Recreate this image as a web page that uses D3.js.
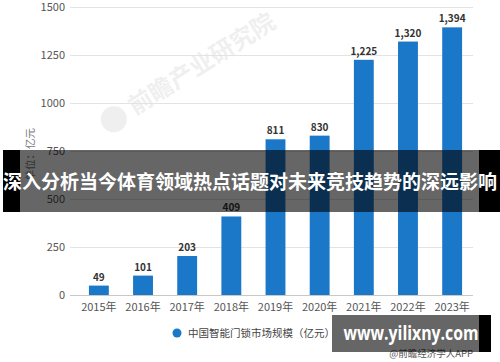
<!DOCTYPE html>
<html>
<head>
<meta charset="utf-8">
<script src="https://cdn.jsdelivr.net/npm/d3@7"></script>
<style>
  html, body { margin: 0; padding: 0; background: #fff; }
  svg { display: block; font-family: "Noto Sans CJK SC", "Noto Sans", sans-serif; }
</style>
</head>
<body>
<div id="container"></div>
<script>
// chart data
const years = ["2015年", "2016年", "2017年", "2018年", "2019年", "2020年", "2021年", "2022年", "2023年"];
const marketSize = [49, 101, 203, 409, 811, 830, 1225, 1320, 1394];
const yTicks = [0, 250, 500, 750, 1000, 1250, 1500];
const seriesName = "中国智能门锁市场规模（亿元）";
const yTitle = "单位：亿元";
const bannerText = "深入分析当今体育领域热点话题对未来竞技趋势的深远影响";
const siteText = "www.yilixny.com";
const sourceText = "@前瞻经济学人APP";
const watermarkText = "前瞻产业研究院";

const width = 500;
const height = 362;
const margin = { top: 7, bottom: 67, left: 70, right: 27 };
const barColor = "#1b77c8";

const svg = d3.select("#container")
    .append("svg")
    .attr("width", width)
    .attr("height", height);

const x = d3.scaleBand()
    .domain(years)
    .range([77, 474])
    .paddingInner(0.55)
    .paddingOuter(0.27);

const y = d3.scaleLinear()
    .domain([0, 1500])
    .range([height - margin.bottom, margin.top]);

// faint watermark (logo + name)
const wm = svg.append("g")
    .attr("transform", "translate(118,126) rotate(-32)")
    .attr("opacity", 0.06);
wm.append("circle")
    .attr("cx", 0)
    .attr("cy", -8)
    .attr("r", 13)
    .attr("fill", "#000");
wm.append("text")
    .attr("x", 20)
    .attr("y", 0)
    .attr("font-size", 24)
    .attr("font-weight", "bold")
    .attr("fill", "#000")
    .text(watermarkText);

// gridlines
svg.append("g")
    .selectAll("line")
    .data(yTicks)
    .join("line")
    .attr("x1", margin.left)
    .attr("x2", width - margin.right)
    .attr("y1", d => y(d) + 0.5)
    .attr("y2", d => y(d) + 0.5)
    .attr("stroke", d => d === 0 ? "#c8c8c8" : "#e3e3e3")
    .attr("stroke-width", 1);

// y tick labels
svg.append("g")
    .selectAll("text")
    .data(yTicks)
    .join("text")
    .attr("x", 65)
    .attr("y", d => y(d))
    .attr("dy", "0.35em")
    .attr("text-anchor", "end")
    .attr("font-size", 11)
    .attr("fill", "#555")
    .text(d => d);

// y axis title
svg.append("text")
    .attr("transform", "translate(34,128) rotate(-90)")
    .attr("text-anchor", "end")
    .attr("font-size", 10.5)
    .attr("fill", "#777")
    .text(yTitle);

// bars
svg.append("g")
    .selectAll("rect")
    .data(marketSize)
    .join("rect")
    .attr("x", (d, i) => x(years[i]))
    .attr("y", d => y(d))
    .attr("width", x.bandwidth())
    .attr("height", d => y(0) - y(d))
    .attr("fill", barColor);

// value labels
svg.append("g")
    .selectAll("text")
    .data(marketSize)
    .join("text")
    .attr("x", (d, i) => x(years[i]) + x.bandwidth() / 2)
    .attr("y", d => y(d) - 5)
    .attr("text-anchor", "middle")
    .attr("font-size", 10)
    .attr("font-weight", "bold")
    .attr("fill", "#333")
    .text(d => d3.format(",")(d));

// x labels
svg.append("g")
    .selectAll("text")
    .data(years)
    .join("text")
    .attr("x", d => x(d) + x.bandwidth() / 2)
    .attr("y", 307)
    .attr("dy", "0.35em")
    .attr("text-anchor", "middle")
    .attr("font-size", 11)
    .attr("fill", "#555")
    .text(d => d);

// legend
const legend = svg.append("g");
legend.append("circle")
    .attr("cx", 177)
    .attr("cy", 333)
    .attr("r", 4.5)
    .attr("fill", barColor);
legend.append("text")
    .attr("x", 188)
    .attr("y", 333)
    .attr("dy", "0.35em")
    .attr("font-size", 10.5)
    .attr("fill", "#444")
    .text(seriesName);

// source line
svg.append("text")
    .attr("x", 473)
    .attr("y", 354)
    .attr("dy", "0.35em")
    .attr("text-anchor", "end")
    .attr("font-size", 9.5)
    .attr("fill", "#555")
    .text(sourceText);

// banner overlay
svg.append("rect")
    .attr("x", 3).attr("y", 150)
    .attr("width", 476).attr("height", 62)
    .attr("fill", "rgba(0,0,0,0.6)");
svg.append("rect")
    .attr("x", 3).attr("y", 150)
    .attr("width", 17).attr("height", 62)
    .attr("fill", "#000");
svg.append("rect")
    .attr("x", 479).attr("y", 150)
    .attr("width", 21).attr("height", 62)
    .attr("fill", "#000");
svg.append("text")
    .attr("x", 250)
    .attr("y", 182)
    .attr("dy", "0.36em")
    .attr("text-anchor", "middle")
    .attr("font-size", 19)
    .attr("font-weight", "bold")
    .attr("fill", "#fff")
    .attr("textLength", 494)
    .attr("lengthAdjust", "spacingAndGlyphs")
    .text(bannerText);

// site watermark box
svg.append("rect")
    .attr("x", 332).attr("y", 315)
    .attr("width", 147).attr("height", 37)
    .attr("fill", "rgba(0,0,0,0.6)");
svg.append("rect")
    .attr("x", 479).attr("y", 315)
    .attr("width", 12).attr("height", 37)
    .attr("fill", "#000");
svg.append("text")
    .attr("x", 411)
    .attr("y", 333)
    .attr("dy", "0.36em")
    .attr("text-anchor", "middle")
    .attr("font-size", 20)
    .attr("font-weight", "bold")
    .attr("font-family", "'Open Sans', 'DejaVu Sans', sans-serif")
    .attr("fill", "#fff")
    .attr("textLength", 135)
    .attr("lengthAdjust", "spacingAndGlyphs")
    .text(siteText);
</script>
</body>
</html>
